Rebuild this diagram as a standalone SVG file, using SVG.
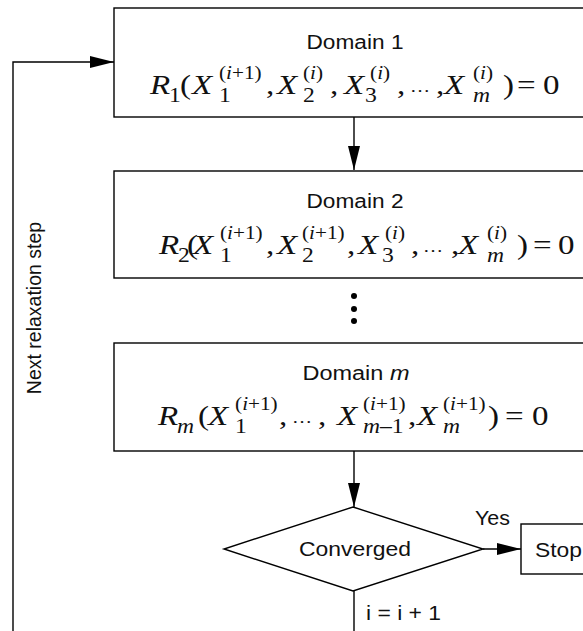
<svg xmlns="http://www.w3.org/2000/svg" width="583" height="631" viewBox="0 0 583 631">
<style>
.box{fill:#fff;stroke:#000;stroke-width:1.4}
.lbl{font-family:"Liberation Sans",Arial,sans-serif;font-size:20px;fill:#111}
.m{font-family:"Liberation Serif","Times New Roman",serif;font-size:28px;fill:#111}
.it{font-style:italic}
.sb{font-size:20px}
.sp{font-size:18px}
.el{font-size:17px}
.conn{fill:none;stroke:#000;stroke-width:1.4}
</style>
<defs>
<marker id="ah" markerUnits="userSpaceOnUse" markerWidth="24" markerHeight="12" refX="24" refY="6" orient="auto">
<path d="M0,0 L24,6 L0,12 Z" fill="#000"/>
</marker>
</defs>
<rect width="583" height="631" fill="#fff"/>
<g id="connectors">
<path class="conn" d="M354,117 V170" marker-end="url(#ah)"/>
<path class="conn" d="M354,451 V507" marker-end="url(#ah)"/>
<path class="conn" d="M483,549 H521" marker-end="url(#ah)"/>
<path class="conn" d="M354,591 V660 H13 V62 H114" marker-end="url(#ah)"/>
<circle cx="354" cy="296" r="3" fill="#000"/>
<circle cx="354" cy="309" r="3" fill="#000"/>
<circle cx="354" cy="321" r="3" fill="#000"/>
<text class="lbl" x="475" y="525" textLength="35" lengthAdjust="spacingAndGlyphs">Yes</text>
<text class="lbl" x="366" y="620" textLength="75" lengthAdjust="spacingAndGlyphs">i = i + 1</text>
<text class="lbl" transform="translate(41,308) rotate(-90)" text-anchor="middle" style="font-size:19.5px">Next relaxation step</text>
</g>
<g id="domain1">
<rect class="box" x="114" y="8" width="500" height="109"/>
<text class="lbl" x="355" y="49" text-anchor="middle" textLength="97" lengthAdjust="spacingAndGlyphs">Domain 1</text>
<text class="m" transform="scale(1.18,1)">
<tspan class="it" x="127.1" y="94">R</tspan><tspan class="sb" x="143.2" y="102">1</tspan><tspan x="152.5" y="94">(</tspan><tspan class="it" x="162.7" y="94">X</tspan><tspan class="sp" x="185.6" y="79">(<tspan class="it">i</tspan>+1)</tspan><tspan class="sb" x="185.6" y="102">1</tspan><tspan x="225.4" y="94">,</tspan><tspan class="it" x="234.7" y="94">X</tspan><tspan class="sp" x="256.8" y="79">(<tspan class="it">i</tspan>)</tspan><tspan class="sb" x="256.8" y="102">2</tspan><tspan x="279.7" y="94">,</tspan><tspan class="it" x="291.5" y="94">X</tspan><tspan class="sp" x="313.6" y="79">(<tspan class="it">i</tspan>)</tspan><tspan class="sb" x="309.3" y="102">3</tspan><tspan x="336.4" y="94">,</tspan><tspan class="el" x="347.5" y="92">…</tspan><tspan x="369.5" y="94">,</tspan><tspan class="it" x="376.3" y="94">X</tspan><tspan class="sp" x="400.8" y="79">(<tspan class="it">i</tspan>)</tspan><tspan class="sb it" x="400.8" y="102">m</tspan><tspan x="426.3" y="94">)</tspan><tspan x="438.1" y="94">=</tspan><tspan x="460.2" y="94">0</tspan>
</text>
</g>
<g id="domain2">
<rect class="box" x="114" y="171" width="500" height="107"/>
<text class="lbl" x="355" y="208" text-anchor="middle" textLength="97" lengthAdjust="spacingAndGlyphs">Domain 2</text>
<text class="m" transform="scale(1.18,1)">
<tspan class="it" x="134.7" y="254">R</tspan><tspan class="sb" x="150.8" y="262">2</tspan><tspan x="158.5" y="254">(</tspan><tspan class="it" x="163.6" y="254">X</tspan><tspan class="sp" x="186.4" y="239">(<tspan class="it">i</tspan>+1)</tspan><tspan class="sb" x="186.4" y="262">1</tspan><tspan x="225.4" y="254">,</tspan><tspan class="it" x="234.7" y="254">X</tspan><tspan class="sp" x="255.9" y="239">(<tspan class="it">i</tspan>+1)</tspan><tspan class="sb" x="255.9" y="262">2</tspan><tspan x="294.1" y="254">,</tspan><tspan class="it" x="303.4" y="254">X</tspan><tspan class="sp" x="326.3" y="239">(<tspan class="it">i</tspan>)</tspan><tspan class="sb" x="323.7" y="262">3</tspan><tspan x="348.3" y="254">,</tspan><tspan class="el" x="358.5" y="252">…</tspan><tspan x="382.2" y="254">,</tspan><tspan class="it" x="388.1" y="254">X</tspan><tspan class="sp" x="412.7" y="239">(<tspan class="it">i</tspan>)</tspan><tspan class="sb it" x="412.7" y="262">m</tspan><tspan x="438.1" y="254">)</tspan><tspan x="451.7" y="254">=</tspan><tspan x="472.9" y="254">0</tspan>
</text>
</g>
<g id="domainm">
<rect class="box" x="114" y="343" width="500" height="108"/>
<text class="lbl" x="356" y="380" text-anchor="middle" textLength="107" lengthAdjust="spacingAndGlyphs">Domain <tspan font-style="italic">m</tspan></text>
<text class="m" transform="scale(1.18,1)">
<tspan class="it" x="133.9" y="425">R</tspan><tspan class="sb it" x="150" y="433">m</tspan><tspan x="167.8" y="425">(</tspan><tspan class="it" x="176.3" y="425">X</tspan><tspan class="sp" x="199.2" y="410">(<tspan class="it">i</tspan>+1)</tspan><tspan class="sb" x="199.2" y="433">1</tspan><tspan x="236.4" y="425">,</tspan><tspan class="el" x="247.5" y="423">…</tspan><tspan x="269.5" y="425">,</tspan><tspan class="it" x="285.6" y="425">X</tspan><tspan class="sp" x="307.6" y="410">(<tspan class="it">i</tspan>+1)</tspan><tspan class="sb" x="307.6" y="433"><tspan class="it">m</tspan>–1</tspan><tspan x="345.8" y="425">,</tspan><tspan class="it" x="353.4" y="425">X</tspan><tspan class="sp" x="375.4" y="410">(<tspan class="it">i</tspan>+1)</tspan><tspan class="sb it" x="375.4" y="433">m</tspan><tspan x="413.6" y="425">)</tspan><tspan x="428" y="425">=</tspan><tspan x="450.8" y="425">0</tspan>
</text>
</g>
<g id="converged">
<polygon class="box" points="353,507 483,549 353,591 224,549"/>
<text class="lbl" x="355" y="556" text-anchor="middle" textLength="112" lengthAdjust="spacingAndGlyphs">Converged</text>
</g>
<g id="stop">
<rect class="box" x="521" y="524" width="100" height="50"/>
<text class="lbl" x="535" y="557" textLength="47" lengthAdjust="spacingAndGlyphs">Stop</text>
</g>
</svg>
